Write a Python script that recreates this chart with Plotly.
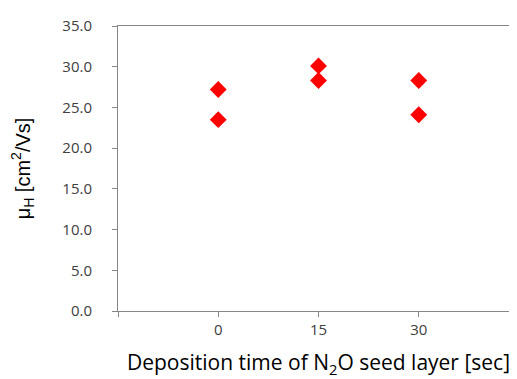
import plotly.graph_objects as go

x_vals = [0, 0, 15, 15, 30, 30]
mobility = [27.2, 23.5, 30.1, 28.3, 28.3, 24.1]
x_ticks = [0, 15, 30]
x_tick_labels = ["0", "15", "30"]
y_ticks = [0, 5, 10, 15, 20, 25, 30, 35]

fig = go.Figure()
fig.add_trace(go.Scatter(
    x=x_vals, y=mobility, mode="markers",
    marker=dict(symbol="diamond", size=13, color="#ff0000", line=dict(width=0)),
    showlegend=False,
))

axis_color = "#868686"
fig.update_layout(
    width=517, height=379,
    margin=dict(l=110, r=6, t=18, b=76),
    paper_bgcolor="white", plot_bgcolor="white",
    font=dict(family="Open Sans, Calibri, sans-serif", color="#404040", size=15),
    xaxis=dict(
        range=[-15, 45], tickvals=x_ticks, ticktext=x_tick_labels,
        showgrid=False, zeroline=False,
        showline=True, linecolor=axis_color, linewidth=1, mirror=True,
        ticks="outside", ticklen=5, tickcolor=axis_color,
        minor=dict(tick0=0, dtick=15, ticks="outside", ticklen=5, tickcolor=axis_color, showgrid=False),
        tickfont=dict(size=15, color="#404040"),
        title=dict(text="Deposition time of N<sub>2</sub>O seed layer [sec]",
                   font=dict(size=21, color="#000000"), standoff=17),
    ),
    yaxis=dict(
        range=[0, 35], tickvals=y_ticks, tickformat=".1f",
        showgrid=False, zeroline=False,
        showline=True, linecolor=axis_color, linewidth=1, mirror=True,
        ticks="outside", ticklen=5, tickcolor=axis_color,
        ticklabelstandoff=17,
        tickfont=dict(size=15, color="#404040"),
        title=dict(text="μ<sub>H</sub> [cm<sup>2</sup>/Vs]",
                   font=dict(family="Liberation Sans, Arial, sans-serif", size=20, color="#000000"),
                   standoff=26),
    ),
)

fig.write_html("out.html")
